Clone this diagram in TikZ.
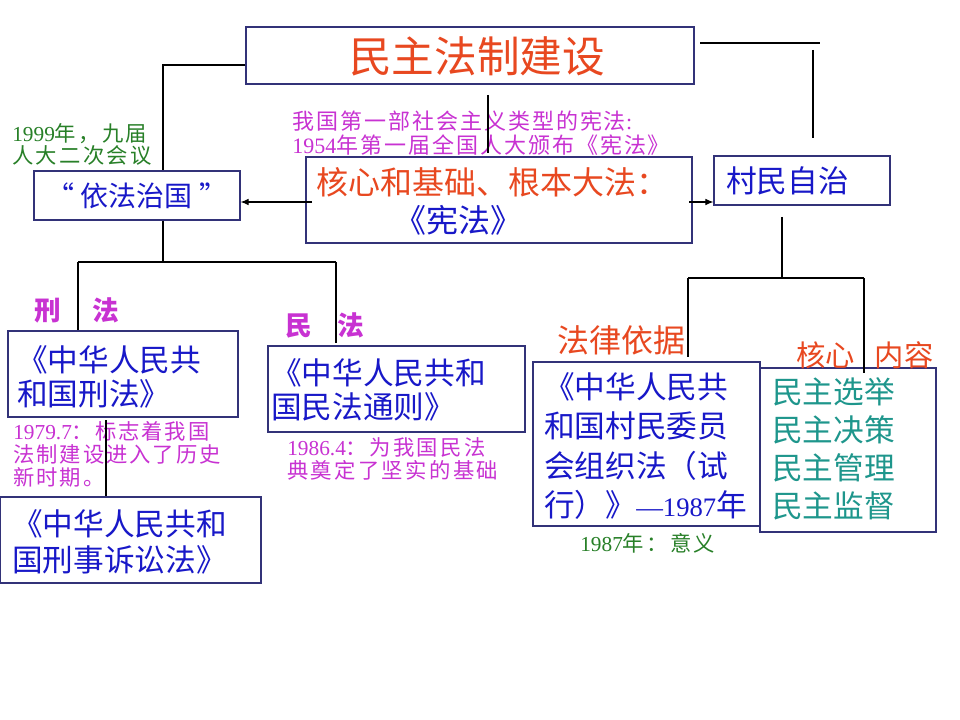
\documentclass[tikz,border=0pt]{standalone}
\usepackage{fontspec}
\setmainfont{Noto Sans CJK SC}
\newfontfamily\lat{Liberation Serif}
\usetikzlibrary{arrows.meta}
\definecolor{tred}{RGB}{232,72,32}
\definecolor{tblue}{RGB}{24,24,200}
\definecolor{tmag}{RGB}{200,50,210}
\definecolor{tgreen}{RGB}{40,128,40}
\definecolor{tteal}{RGB}{30,150,140}
\definecolor{boxc}{RGB}{50,50,120}
\newcommand{\fsz}[2]{\fontsize{#1pt}{#2pt}\selectfont}
\newcommand{\spc}[1]{\addfontfeature{LetterSpace=#1}}
\begin{document}
\begin{tikzpicture}[x=0.75pt,y=-0.75pt,
  box/.style={draw=boxc,line width=0.9pt,inner sep=0pt},
  lbl/.style={inner sep=0pt,align=left},
  conn/.style={draw=black,line width=0.8pt},
  arr/.style={conn,-{Latex[length=6pt,width=5pt]}}]
\useasboundingbox (0,0) rectangle (960,720);
\fill[white] (0,0) rectangle (960,720);

% boxes
\node[box,minimum width=336pt,minimum height=42.75pt] (title) at (470,55.5) {};
\node[box,minimum width=154.5pt,minimum height=36.75pt] (yifa) at (137,195.5) {};
\node[box,minimum width=289.5pt,minimum height=64.5pt] (xian) at (499,200) {};
\node[box,minimum width=132pt,minimum height=36.75pt] (cun) at (802,180.5) {};
\node[box,minimum width=172.5pt,minimum height=64.5pt] (xing) at (123,374) {};
\node[box,minimum width=195.75pt,minimum height=64.5pt] (xingsu) at (130.5,540) {};
\node[box,minimum width=192.75pt,minimum height=64.5pt] (minfa) at (396.5,389) {};
\node[box,minimum width=170.25pt,minimum height=123pt] (cunwei) at (646.5,444) {};
\node[box,minimum width=132pt,minimum height=123pt] (minzhu) at (848,450) {};

% box texts
\node[lbl,text=tred,font=\fsz{32}{38}] (tTitle) at (477,56) {民主法制建设};
\node[lbl,text=tblue,font=\fsz{21}{25}] (tYifa) at (137,196) {“\hspace{5pt}依法治国\hspace{5pt}”};
\node[lbl,text=tred,font=\fsz{24}{28},anchor=west] (tXian1) at (316,182) {核心和基础、根本大法：};
\node[lbl,text=tblue,font=\fsz{24}{28}] (tXian2) at (458,220) {《宪法》};
\node[lbl,text=tblue,font=\fsz{23}{27},anchor=west] (tCun) at (726,181) {村民自治};
\node[lbl,text=tblue,font=\fsz{23}{26},anchor=west] (tXing) at (17,377) {《中华人民共\\和国刑法》};
\node[lbl,text=tblue,font=\fsz{23}{27},anchor=west] (tXingsu) at (12,542) {《中华人民共和\\国刑事诉讼法》};
\node[lbl,text=tblue,font=\fsz{23}{25.5},anchor=west] (tMinfa) at (271,390) {《中华人民共和\\国民法通则》};
\node[lbl,text=tblue,font=\fsz{23}{29.5},anchor=west] (tCunwei) at (544,446) {《中华人民共\\和国村民委员\\会组织法（试\\行）》{\lat\fontsize{20pt}{29.5pt}\selectfont —1987}年};
\node[lbl,text=tteal,font=\fsz{23}{28.5},anchor=west] (tMinzhu) at (772,449) {民主选举\\民主决策\\民主管理\\民主监督};

% notes
\node[lbl,text=tmag,font={\fsz{16.5}{17.5}\spc{9}},anchor=west] (nXian) at (292,133) {我国第一部社会主义类型的宪法{\lat :}\\{\lat 1954}年第一届全国人大颁布《宪法》};
\node[lbl,text=tmag,font={\fsz{16}{17.25}\spc{9}},anchor=west] (nXing) at (13,454) {{\lat 1979.7}：标志着我国\\法制建设进入了历史\\新时期。};
\node[lbl,text=tmag,font={\fsz{16}{17.25}\spc{11}},anchor=west] (nMinfa) at (287,459) {{\lat 1986.4}：为我国民法\\典奠定了坚实的基础};
\node[lbl,text=tgreen,font={\fsz{16}{16.5}\spc{11}},anchor=west] (g1999) at (12,144) {{\lat 1999}年，九届\\人大二次会议};
\node[lbl,text=tgreen,font={\fsz{16}{17}\spc{11}},anchor=west] (g1987) at (580,543) {{\lat 1987}年：意义};

% headings
\node[lbl,text=tmag,font=\fsz{20}{24}\bfseries,anchor=west] (lXing) at (34,310) {刑\hspace{24pt}法};
\node[lbl,text=tmag,font=\fsz{20}{24}\bfseries,anchor=west] (lMin) at (285,325) {民\hspace{19pt}法};
\node[lbl,text=tred,font=\fsz{24}{28},anchor=west] (lYiju) at (557,340) {法律依据};
\node[lbl,text=tred,font=\fsz{22}{26},anchor=west] (lHexin) at (796,355) {核心\hspace{15pt}内容};

% connectors
\coordinate (j1) at (163,65);
\draw[conn] (title.west |- j1) -- (j1) -- (j1 |- yifa.north);
\coordinate (j2) at (163,262);
\draw[conn] (j2 |- yifa.south) -- (j2);
\coordinate (j2l) at (78,262);
\coordinate (j2r) at (336,262);
\draw[conn] (j2l) -- (j2r);
\draw[conn] (j2l) -- (j2l |- xing.north);
\coordinate (j2e) at (336,343);
\draw[conn] (j2r) -- (j2e);
\coordinate (j3) at (106,420);
\draw[conn] (j3) -- (j3 |- xingsu.north);
\coordinate (j4a) at (488,95);
\coordinate (j4b) at (488,153);
\draw[conn] (j4a) -- (j4b);
\coordinate (a1) at (312,202);
\draw[arr] (a1) -- (a1 -| yifa.east);
\coordinate (a2) at (689,202);
\draw[arr] (a2) -- (a2 -| cun.west);
\coordinate (r1) at (700,43);
\coordinate (r2) at (820,43);
\coordinate (r3) at (813,50);
\coordinate (r4) at (813,138);
\draw[conn] (r1) -- (r2);
\draw[conn] (r3) -- (r4);
\coordinate (j5t) at (782,217);
\coordinate (j5) at (782,278);
\draw[conn] (j5t) -- (j5);
\coordinate (j5l) at (688,278);
\coordinate (j5r) at (864,278);
\draw[conn] (j5l) -- (j5r);
\coordinate (j5le) at (688,357);
\coordinate (j5re) at (864,373);
\draw[conn] (j5l) -- (j5le);
\draw[conn] (j5r) -- (j5re);
\end{tikzpicture}
\end{document}
